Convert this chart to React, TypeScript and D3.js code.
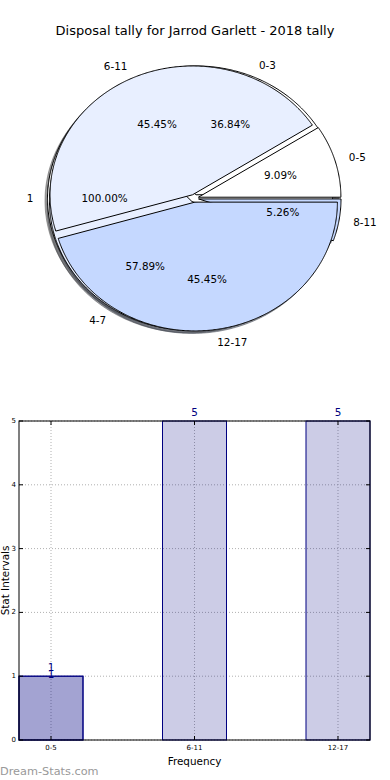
import React from 'react';
import * as d3 from 'd3';

const title = 'Disposal tally for Jarrod Garlett - 2018 tally';

// three pies drawn on the same axes (bottom to top)
const pieCLabels = ['1'];
const pieCValues = [1];
const pieBLabels = ['0-3', '4-7', '8-11'];
const pieBValues = [7, 11, 1];
const pieALabels = ['0-5', '6-11', '12-17'];
const pieAValues = [1, 5, 5];
const pieColors = ['#ffffff', '#e8efff', '#c5d8ff'];

const barCategories = ['0-5', '6-11', '12-17'];
const barValues = [1, 5, 5];
const overlayCategories = ['0-5'];
const overlayValues = [1];
const yTicks = [0, 1, 2, 3, 4, 5];

const W = 390;
const H = 780;
const FONT = 'DejaVu Sans, sans-serif';

const PIE = { cx: 194.3, cy: 198.3, rx: 142.5, ry: 128.8, explode: 0.03, labelDist: 1.1, pctDist: 0.6 };
const SHADOW = { dx: -2.5, dy: 2.5 };

type Wedge = {
  label: string; pct: number; t0: number; t1: number; mid: number;
  ox: number; oy: number; color: string; full: boolean;
};

function layoutPie(values: number[], labels: string[]): Wedge[] {
  const total = d3.sum(values);
  const arcs = d3.pie<number>().sort(null).value((d) => d).startAngle(0).endAngle(2 * Math.PI)(values);
  return arcs.map((a, i) => {
    const mid = (a.startAngle + a.endAngle) / 2;
    return {
      label: labels[i],
      pct: (values[i] / total) * 100,
      t0: a.startAngle,
      t1: a.endAngle,
      mid,
      ox: PIE.cx + PIE.explode * PIE.rx * Math.cos(mid),
      oy: PIE.cy - PIE.explode * PIE.ry * Math.sin(mid),
      color: pieColors[i % pieColors.length],
      full: a.endAngle - a.startAngle >= 2 * Math.PI - 1e-9,
    };
  });
}

const lineGen = d3.line<[number, number]>();

function wedgePath(w: Wedge, dx = 0, dy = 0): string {
  const n = Math.max(4, Math.ceil((w.t1 - w.t0) / (Math.PI / 360)));
  const pts: [number, number][] = d3.range(n + 1).map((k) => {
    const t = w.t0 + ((w.t1 - w.t0) * k) / n;
    return [w.ox + dx + PIE.rx * Math.cos(t), w.oy + dy - PIE.ry * Math.sin(t)];
  });
  if (!w.full) pts.unshift([w.ox + dx, w.oy + dy]);
  return (lineGen(pts) || '') + 'Z';
}

function shade(c: string): string {
  const r = d3.rgb(c);
  return d3.rgb(r.r * 0.3, r.g * 0.3, r.b * 0.3).formatHex();
}

const pies = [layoutPie(pieCValues, pieCLabels), layoutPie(pieBValues, pieBLabels), layoutPie(pieAValues, pieALabels)];
const allWedges = pies.flat();

// bar chart
const bw = 0.446;
const xScale = d3.scaleLinear().domain([-bw / 2, barCategories.length - 1 + bw / 2]).range([19, 370]);
const yScale = d3.scaleLinear().domain([0, 5]).range([740, 421]);
const NAVY = '#000080';

export default function App() {
  const [x0, x1] = xScale.range();
  const [yb, yt] = yScale.range();
  const fmt = d3.format('.2f');
  return (
    <svg width={W} height={H} style={{ position: 'absolute', left: 0, top: 0, background: '#fff' }} fontFamily={FONT}>
      <rect width={W} height={H} fill="#fff" />
      <text x={195} y={30} textAnchor="middle" dominantBaseline="central" fontSize={13} fill="#000">{title}</text>

      {/* shadows */}
      {allWedges.map((w, i) => (
        <path key={'s' + i} d={wedgePath(w, SHADOW.dx, SHADOW.dy)} fill={shade(w.color)} stroke={shade(w.color)} fillOpacity={0.5} strokeOpacity={0.5} strokeWidth={1} />
      ))}
      {/* wedges */}
      {allWedges.map((w, i) => (
        <path key={'w' + i} d={wedgePath(w)} fill={w.color} stroke="#000" strokeWidth={1} strokeLinejoin="round" />
      ))}
      {/* labels */}
      {allWedges.map((w, i) => (
        <text key={'l' + i}
          x={w.ox + PIE.labelDist * PIE.rx * Math.cos(w.mid)}
          y={w.oy - PIE.labelDist * PIE.ry * Math.sin(w.mid)}
          textAnchor={Math.cos(w.mid) > 0 ? 'start' : 'end'} dominantBaseline="central" fontSize={10.4} fill="#000">{w.label}</text>
      ))}
      {allWedges.map((w, i) => (
        <text key={'p' + i}
          x={w.ox + PIE.pctDist * PIE.rx * Math.cos(w.mid)}
          y={w.oy - PIE.pctDist * PIE.ry * Math.sin(w.mid)}
          textAnchor="middle" dominantBaseline="central" fontSize={10.4} fill="#000">{fmt(w.pct) + '%'}</text>
      ))}

      {/* bar chart grid */}
      {yTicks.map((t) => (
        <line key={'gy' + t} x1={x0} x2={x1} y1={yScale(t)} y2={yScale(t)} stroke="#b0b0b0" strokeDasharray="1,2" />
      ))}
      {barCategories.map((c, i) => (
        <line key={'gx' + c} x1={xScale(i)} x2={xScale(i)} y1={yb} y2={yt} stroke="#b0b0b0" strokeDasharray="1,2" />
      ))}
      {/* bars */}
      {barValues.map((v, i) => (
        <rect key={'b' + i} x={xScale(i - bw / 2)} y={yScale(v)} width={xScale(bw) - xScale(0)} height={yScale(0) - yScale(v)} fill={NAVY} fillOpacity={0.2} stroke={NAVY} strokeWidth={1} />
      ))}
      {overlayValues.map((v, i) => (
        <rect key={'o' + i} x={xScale(barCategories.indexOf(overlayCategories[i]) - bw / 2)} y={yScale(v)} width={xScale(bw) - xScale(0)} height={yScale(0) - yScale(v)} fill={NAVY} fillOpacity={0.2} stroke={NAVY} strokeWidth={1} />
      ))}
      {barValues.map((v, i) => (
        <text key={'bl' + i} x={xScale(i)} y={yScale(v) - 9} textAnchor="middle" dominantBaseline="central" fontSize={10.4} fill={NAVY}>{v}</text>
      ))}
      {overlayValues.map((v, i) => (
        <text key={'ol' + i} x={xScale(barCategories.indexOf(overlayCategories[i]))} y={yScale(v) - 2} textAnchor="middle" dominantBaseline="central" fontSize={10.4} fill={NAVY}>{v}</text>
      ))}
      {/* frame */}
      <rect x={x0} y={yt} width={x1 - x0} height={yb - yt} fill="none" stroke="#000" strokeWidth={1} />
      {/* ticks */}
      {yTicks.map((t) => (
        <g key={'ty' + t}>
          <line x1={x0} x2={x0 + 4} y1={yScale(t)} y2={yScale(t)} stroke="#000" />
          <line x1={x1} x2={x1 - 4} y1={yScale(t)} y2={yScale(t)} stroke="#000" />
          <text x={x0 - 3} y={yScale(t)} textAnchor="end" dominantBaseline="central" fontSize={7} fill="#000">{t}</text>
        </g>
      ))}
      {barCategories.map((c, i) => (
        <g key={'tx' + c}>
          <line x1={xScale(i)} x2={xScale(i)} y1={yb} y2={yb - 4} stroke="#000" />
          <line x1={xScale(i)} x2={xScale(i)} y1={yt} y2={yt + 4} stroke="#000" />
          <text x={xScale(i)} y={yb + 8} textAnchor="middle" dominantBaseline="central" fontSize={7} fill="#000">{c}</text>
        </g>
      ))}
      <text x={(x0 + x1) / 2} y={761} textAnchor="middle" dominantBaseline="central" fontSize={10.4} fill="#000">Frequency</text>
      <text transform={`translate(8.5,${(yb + yt) / 2}) rotate(-90)`} textAnchor="middle" fontSize={10.4} fill="#000">Stat Intervals</text>
      <text x={0} y={775} fontSize={11.3} fill="#999">Dream-Stats.com</text>
    </svg>
  );
}
